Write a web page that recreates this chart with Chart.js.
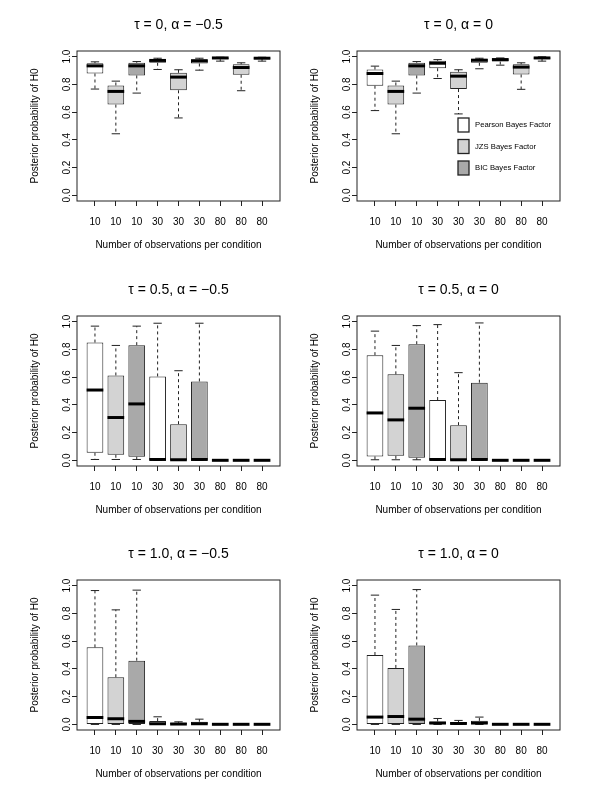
<!DOCTYPE html>
<html>
<head>
<meta charset="utf-8">
<script src="https://cdn.jsdelivr.net/npm/chart.js@4.4.1/dist/chart.umd.min.js"></script>
<style>
  html, body { margin: 0; padding: 0; background: #fff; }
  #page { position: relative; width: 613px; height: 793px; }
  #page canvas { position: absolute; }
</style>
</head>
<body>
<div id="page"></div>
<script>
const groupLabels = ['10', '10', '10', '30', '30', '30', '80', '80', '80'];
const methodLabels = ['Pearson Bayes Factor', 'JZS Bayes Factor', 'BIC Bayes Factor'];
const methodColors = ['#ffffff', '#d3d3d3', '#a9a9a9'];
const yTickValues = [0, 0.2, 0.4, 0.6, 0.8, 1.0];
const panelTitles = [
  'τ = 0, α = −0.5', 'τ = 0, α = 0',
  'τ = 0.5, α = −0.5', 'τ = 0.5, α = 0',
  'τ = 1.0, α = −0.5', 'τ = 1.0, α = 0'
];

// each row: [lower whisker, q1, median, q3, upper whisker]
const tau0AlphaNeg = [
  [0.766, 0.878, 0.933, 0.952, 0.962],
  [0.444, 0.654, 0.749, 0.792, 0.823],
  [0.737, 0.864, 0.933, 0.955, 0.964],
  [0.907, 0.955, 0.972, 0.981, 0.988],
  [0.558, 0.757, 0.852, 0.883, 0.905],
  [0.902, 0.950, 0.969, 0.981, 0.988],
  [0.967, 0.981, 0.990, 0.993, 0.995],
  [0.754, 0.869, 0.921, 0.945, 0.955],
  [0.967, 0.983, 0.988, 0.993, 0.995]
];
const tau0Alpha0 = [
  [0.611, 0.790, 0.878, 0.907, 0.931],
  [0.444, 0.654, 0.749, 0.792, 0.823],
  [0.737, 0.864, 0.933, 0.955, 0.964],
  [0.842, 0.916, 0.952, 0.969, 0.978],
  [0.587, 0.766, 0.859, 0.890, 0.905],
  [0.912, 0.955, 0.974, 0.983, 0.988],
  [0.938, 0.964, 0.978, 0.988, 0.990],
  [0.764, 0.871, 0.924, 0.945, 0.955],
  [0.967, 0.983, 0.990, 0.995, 0.998]
];
const tau05AlphaNeg = [
  [0.007, 0.055, 0.507, 0.849, 0.967],
  [0.007, 0.041, 0.309, 0.612, 0.828],
  [0.007, 0.026, 0.407, 0.830, 0.967],
  [0.000, 0.000, 0.007, 0.605, 0.988],
  [0.000, 0.000, 0.005, 0.261, 0.646],
  [0.000, 0.000, 0.007, 0.569, 0.988],
  [0.000, 0.000, 0.001, 0.002, 0.003],
  [0.000, 0.000, 0.001, 0.002, 0.003],
  [0.000, 0.000, 0.001, 0.002, 0.003]
];
const tau05Alpha0 = [
  [0.005, 0.029, 0.342, 0.758, 0.931],
  [0.005, 0.033, 0.292, 0.620, 0.828],
  [0.005, 0.019, 0.376, 0.837, 0.971],
  [0.000, 0.000, 0.007, 0.435, 0.978],
  [0.000, 0.000, 0.005, 0.254, 0.632],
  [0.000, 0.000, 0.007, 0.560, 0.990],
  [0.000, 0.000, 0.001, 0.002, 0.003],
  [0.000, 0.000, 0.001, 0.002, 0.003],
  [0.000, 0.000, 0.001, 0.002, 0.003]
];
const tau1AlphaNeg = [
  [0.000, 0.000, 0.050, 0.555, 0.964],
  [0.000, 0.000, 0.041, 0.340, 0.825],
  [0.000, 0.000, 0.022, 0.459, 0.967],
  [0.000, 0.000, 0.005, 0.024, 0.055],
  [0.000, 0.000, 0.003, 0.012, 0.019],
  [0.000, 0.000, 0.005, 0.019, 0.038],
  [0.000, 0.000, 0.001, 0.002, 0.003],
  [0.000, 0.000, 0.001, 0.002, 0.003],
  [0.000, 0.000, 0.001, 0.002, 0.003]
];
const tau1Alpha0 = [
  [0.000, 0.000, 0.053, 0.500, 0.931],
  [0.000, 0.000, 0.057, 0.407, 0.828],
  [0.000, 0.000, 0.038, 0.569, 0.971],
  [0.000, 0.000, 0.010, 0.022, 0.043],
  [0.000, 0.000, 0.007, 0.017, 0.029],
  [0.000, 0.000, 0.010, 0.026, 0.053],
  [0.000, 0.000, 0.001, 0.002, 0.003],
  [0.000, 0.000, 0.001, 0.002, 0.003],
  [0.000, 0.000, 0.001, 0.002, 0.003]
];

const panelStats = [tau0AlphaNeg, tau0Alpha0, tau05AlphaNeg, tau05Alpha0, tau1AlphaNeg, tau1Alpha0];

Chart.defaults.font.family = '"Liberation Sans", Arial, sans-serif';
Chart.defaults.color = '#000';

const INK = '#222';

// whiskers, staples and medians on top of the floating bars
const boxplotParts = {
  id: 'boxplotParts',
  afterDatasetsDraw(chart) {
    const ctx = chart.ctx;
    const y = chart.scales.y;
    const seg = (x1, y1, x2, y2) => {
      ctx.beginPath();
      ctx.moveTo(x1, y1);
      ctx.lineTo(x2, y2);
      ctx.stroke();
    };
    ctx.save();
    chart.data.datasets.forEach((ds, di) => {
      chart.getDatasetMeta(di).data.forEach((bar, i) => {
        const [lo, q1, med, q3, hi] = ds.data[i].stats;
        const x = bar.x;
        const half = bar.width / 2;
        ctx.strokeStyle = INK;
        ctx.lineWidth = 1;
        ctx.setLineDash([3, 3]);
        seg(x, y.getPixelForValue(q3), x, y.getPixelForValue(hi));
        seg(x, y.getPixelForValue(q1), x, y.getPixelForValue(lo));
        ctx.setLineDash([]);
        seg(x - half / 2, y.getPixelForValue(hi), x + half / 2, y.getPixelForValue(hi));
        seg(x - half / 2, y.getPixelForValue(lo), x + half / 2, y.getPixelForValue(lo));
        ctx.strokeStyle = '#000';
        ctx.lineWidth = 3;
        seg(x - half, y.getPixelForValue(med), x + half, y.getPixelForValue(med));
      });
    });
    const a = chart.chartArea;
    ctx.strokeStyle = INK;
    ctx.lineWidth = 1;
    ctx.strokeRect(a.left, a.top, a.right - a.left, a.bottom - a.top);
    ctx.restore();
  }
};

// R-style legend drawn inside the plot area
const boxLegend = {
  id: 'boxLegend',
  afterDraw(chart, args, opts) {
    if (!opts.show) return;
    const ctx = chart.ctx;
    const a = chart.chartArea;
    ctx.save();
    ctx.font = '7.7px "Liberation Sans", Arial, sans-serif';
    ctx.textBaseline = 'middle';
    chart.data.datasets.forEach((ds, i) => {
      const bx = a.left + opts.offsetX;
      const by = a.top + opts.offsetY + i * opts.spacing;
      ctx.fillStyle = ds.backgroundColor;
      ctx.fillRect(bx, by, opts.boxWidth, opts.boxHeight);
      ctx.strokeStyle = INK;
      ctx.lineWidth = 1.3;
      ctx.strokeRect(bx, by, opts.boxWidth, opts.boxHeight);
      ctx.fillStyle = '#000';
      ctx.fillText(ds.label, bx + opts.boxWidth + 6, by + opts.boxHeight / 2);
    });
    ctx.restore();
  }
};

function buildDatasets(stats) {
  return methodLabels.map((label, m) => ({
    label: label,
    backgroundColor: methodColors[m],
    borderColor: INK,
    borderWidth: 1,
    borderSkipped: false,
    grouped: false,
    categoryPercentage: 1,
    barPercentage: 0.8,
    data: stats
      .map((s, i) => ({ x: i + 1, y: [s[1], s[3]], stats: s }))
      .filter((d, i) => i % 3 === m)
  }));
}

function createPanel(p) {
  const canvas = document.createElement('canvas');
  canvas.width = 284;
  canvas.height = 265;
  canvas.style.left = (p % 2 === 0 ? 0 : 280) + 'px';
  canvas.style.top = [0, 265, 529][Math.floor(p / 2)] + 'px';
  document.getElementById('page').appendChild(canvas);

  return new Chart(canvas.getContext('2d'), {
    type: 'bar',
    data: { datasets: buildDatasets(panelStats[p]) },
    options: {
      responsive: false,
      animation: false,
      layout: { padding: { top: 0, right: 4, bottom: 4, left: 0 } },
      scales: {
        x: {
          type: 'linear',
          min: 0.14,
          max: 9.86,
          offset: false,
          afterBuildTicks: s => { s.ticks = groupLabels.map((_, i) => ({ value: i + 1 })); },
          afterFit: s => { s.height = 60; },
          ticks: {
            callback: (v, i) => groupLabels[i],
            autoSkip: false,
            maxRotation: 0,
            padding: 10,
            font: { size: 10 }
          },
          grid: { offset: false, drawOnChartArea: false, tickLength: 5, color: INK },
          border: { display: false },
          title: {
            display: true,
            text: 'Number of observations per condition',
            font: { size: 10 },
            padding: { top: 0, bottom: 10 }
          }
        },
        y: {
          min: -0.04,
          max: 1.04,
          afterBuildTicks: s => { s.ticks = yTickValues.map(v => ({ value: v })); },
          afterFit: s => { s.width = 77; },
          ticks: {
            callback: v => v.toFixed(1),
            minRotation: 90,
            maxRotation: 90,
            crossAlign: 'center',
            padding: -2,
            font: { size: 10 }
          },
          grid: { drawOnChartArea: false, tickLength: 5, color: INK },
          border: { display: false },
          title: {
            display: true,
            text: 'Posterior probability of H0',
            font: { size: 10 },
            padding: { top: 29, bottom: 0 }
          }
        }
      },
      plugins: {
        legend: { display: false },
        tooltip: { enabled: false },
        title: {
          display: true,
          text: panelTitles[p],
          fullSize: false,
          font: { size: 14, weight: 'normal' },
          padding: { top: 16.6, bottom: 17.6 }
        },
        boxLegend: {
          show: p === 1,
          offsetX: 101,
          offsetY: 67,
          spacing: 21.5,
          boxWidth: 11,
          boxHeight: 14
        }
      }
    },
    plugins: [boxplotParts, boxLegend]
  });
}

panelStats.forEach((_, p) => createPanel(p));
</script>
</body>
</html>
